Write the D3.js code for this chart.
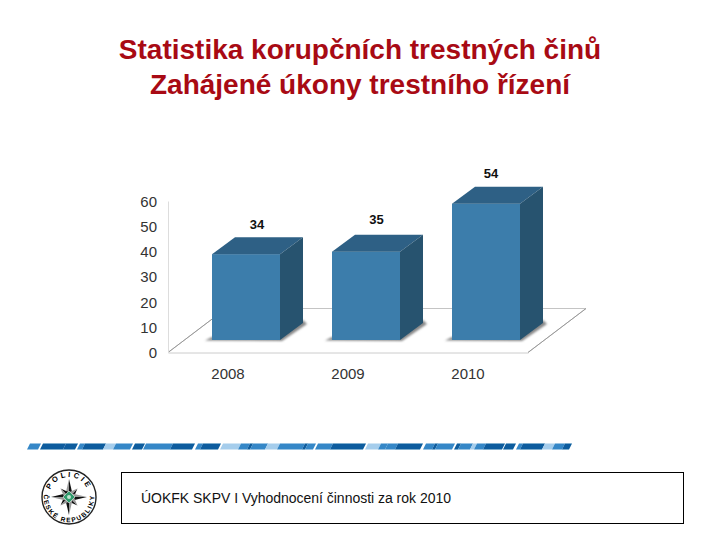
<html lang="en">

<head>
    <meta charset="UTF-8">
    <script src="https://d3js.org/d3.v7.min.js"></script>
    <title>Statistika korupčních trestných činů</title>
    <style>
        html, body {
            margin: 0;
            padding: 0;
            background: #fff;
        }

        svg {
            display: block;
            font-family: "Liberation Sans", Arial, sans-serif;
        }

        .axis text {
            font-size: 15px;
            fill: #333;
        }
    </style>
</head>

<body>
    <section></section>

    <script>
        const titleLines = ['Statistika korupčních trestných činů', 'Zahájené úkony trestního řízení'];
        const footerText = 'ÚOKFK SKPV I Vyhodnocení činnosti za rok 2010';
        const years = ['2008', '2009', '2010'];
        const cases = [34, 35, 54];
        const yTicks = [0, 10, 20, 30, 40, 50, 60];

        // the dashed rule above the footer: start, end, shade
        const ruleStarts = [27, 40, 63, 77, 82, 103, 113, 132, 143, 170, 195, 200, 220, 238, 247, 250, 265, 277, 302, 305, 315, 330, 365, 378, 385, 395, 423, 432, 435, 454, 458, 470, 474, 483, 503, 516, 520, 542, 552, 562];
        const ruleEnds = [38, 63, 75, 82, 103, 113, 130, 142, 170, 192, 200, 218, 238, 247, 250, 265, 277, 302, 305, 313, 330, 363, 378, 385, 395, 420, 432, 435, 452, 458, 470, 474, 483, 502, 513, 520, 542, 552, 562, 569];
        const ruleShades = ['m', 'd', 'd', 'm', 'd', 'l', 'm', 'd', 'm', 'd', 'm', 'd', 'l', 'm', 'd', 'm', 'l', 'm', 'd', 'm', 'm', 'd', 'l', 'm', 'm', 'd', 'm', 'd', 'm', 'd', 'm', 'l', 'm', 'd', 'd', 'm', 'd', 'l', 'm', 'd'];

        const w = 720;
        const h = 540;
        const floorDx = 58;
        const floorDy = 44;
        const barDx = 23;
        const barDy = 17;
        const barLift = 12.5; // bars stand this far behind the front edge of the floor

        const svg = d3.select('section')
            .append('svg')
            .attr('width', w)
            .attr('height', h);

        const defs = svg.append('defs');
        defs.append('filter').attr('id', 'blur')
            .append('feGaussianBlur').attr('stdDeviation', 1.3);
        defs.append('filter').attr('id', 'soft')
            .append('feGaussianBlur').attr('stdDeviation', 0.4);

        svg.selectAll('.title')
            .data(titleLines)
            .enter()
            .append('text')
            .attr('class', 'title')
            .attr('x', 360)
            .attr('y', (d, i) => 59 + i * 35)
            .attr('text-anchor', 'middle')
            .attr('font-size', 28)
            .attr('font-weight', 'bold')
            .attr('fill', '#a80a14')
            .text(d => d);

        const xScale = d3.scaleBand()
            .domain(years)
            .range([168, 528])
            .paddingInner(52 / 120)
            .paddingOuter(26 / 120);

        const yScale = d3.scaleLinear()
            .domain([0, 60])
            .range([352.5, 201]);

        // floor
        const y0 = yScale(0);
        const floor = svg.append('g').attr('fill', 'none');
        floor.append('path')
            .attr('d', `M168,${y0}L${168 + floorDx},${y0 - floorDy}H${528 + floorDx}L528,${y0}`)
            .attr('stroke', '#c4c4c4');
        floor.append('path')
            .attr('d', `M168,${y0}L${168 + floorDx},${y0 - floorDy}`)
            .attr('stroke', '#999');
        floor.append('path')
            .attr('d', `M528,${y0}L${528 + floorDx},${y0 - floorDy}`)
            .attr('stroke', '#999');

        const xAxis = d3.axisBottom(xScale).tickSize(0).tickPadding(16);
        const yAxis = d3.axisLeft(yScale).tickValues(yTicks).tickSize(0).tickPadding(11);

        const xG = svg.append('g')
            .attr('class', 'axis')
            .attr('transform', 'translate(0,' + y0 + ')')
            .call(xAxis);
        xG.select('.domain').attr('stroke', '#ccc');

        const yG = svg.append('g')
            .attr('class', 'axis')
            .attr('transform', 'translate(168,0)')
            .call(yAxis);
        yG.select('.domain').attr('stroke', '#ddd');
        yG.selectAll('.tick text').attr('dy', '0.34em');

        // bars
        const bars = svg.selectAll('.bar')
            .data(years.map((d, i) => ({ year: d, value: cases[i] })))
            .enter()
            .append('g')
            .attr('class', 'bar');

        const barLeft = d => xScale(d.year) + 18;
        const barRight = d => barLeft(d) + xScale.bandwidth();
        const barTop = d => yScale(d.value) - barLift;
        const barBase = y0 - barLift;

        bars.append('path')
            .attr('d', d => `M${barLeft(d) - 7},${barBase + 0.5}L${barRight(d) + 2},${barBase + 1}L${barRight(d) + barDx + 4},${barBase - barDy + 1}L${barRight(d) + barDx},${barBase - barDy - 3}L${barRight(d)},${barBase - 3}H${barLeft(d)}Z`)
            .attr('fill', '#888')
            .attr('filter', 'url(#blur)');

        bars.append('rect')
            .attr('x', barLeft)
            .attr('y', barTop)
            .attr('width', xScale.bandwidth())
            .attr('height', d => barBase - barTop(d))
            .attr('fill', '#3c7dab');

        bars.append('path')
            .attr('d', d => `M${barLeft(d)},${barTop(d)}l${barDx},${-barDy}H${barRight(d) + barDx}L${barRight(d)},${barTop(d)}Z`)
            .attr('fill', '#2e6085');

        bars.append('path')
            .attr('d', d => `M${barRight(d)},${barTop(d)}l${barDx},${-barDy}V${barBase - barDy}L${barRight(d)},${barBase}Z`)
            .attr('fill', '#27536f');

        const labelShift = [11, 10.5, 5];
        const labelRaise = [0, 3, 1];
        bars.append('text')
            .attr('x', (d, i) => (barLeft(d) + barRight(d)) / 2 + labelShift[i])
            .attr('y', (d, i) => barTop(d) - barDy - 8 - labelRaise[i])
            .attr('text-anchor', 'middle')
            .attr('font-size', 13)
            .attr('font-weight', 'bold')
            .attr('fill', '#111')
            .text(d => d.value);

        // dashed rule
        const shadeColor = { d: '#0b5c9e', m: '#3587c7', l: '#a5cdec' };
        svg.append('g')
            .attr('filter', 'url(#soft)')
            .selectAll('path')
            .data(ruleStarts.map((s, i) => ({ s: s, e: ruleEnds[i], shade: ruleShades[i] })))
            .enter()
            .append('path')
            .attr('d', d => `M${d.s},449.5L${d.s + 3},443.5H${d.e + 3}L${d.e},449.5Z`)
            .attr('fill', d => shadeColor[d.shade]);

        // footer box
        svg.append('rect')
            .attr('x', 121.5)
            .attr('y', 472.5)
            .attr('width', 562)
            .attr('height', 51)
            .attr('fill', '#fff')
            .attr('stroke', '#000');

        svg.append('text')
            .attr('x', 141)
            .attr('y', 503)
            .attr('font-size', 14)
            .attr('fill', '#111')
            .attr('textLength', 310)
            .attr('lengthAdjust', 'spacing')
            .text(footerText);

        // police badge
        const logo = svg.append('g').attr('transform', 'translate(69,497)');
        logo.append('circle').attr('r', 27).attr('fill', '#fff').attr('stroke', '#222').attr('stroke-width', 1.4);

        defs.append('path').attr('id', 'arcTop').attr('d', 'M-20,0 A20,20 0 0 1 20,0');
        defs.append('path').attr('id', 'arcBottom').attr('d', 'M-24,-8 A25.3,25.3 0 1 0 24,-8');

        logo.append('text').attr('font-size', 7.5).attr('font-weight', 'bold').attr('letter-spacing', 2.6).attr('text-anchor', 'middle')
            .append('textPath').attr('href', '#arcTop').attr('startOffset', '50%').text('POLICIE');
        logo.append('text').attr('font-size', 6.5).attr('font-weight', 'bold').attr('letter-spacing', 1.5).attr('text-anchor', 'middle')
            .append('textPath').attr('href', '#arcBottom').attr('startOffset', '50%').text('ČESKÉ REPUBLIKY');

        const spikes = d3.range(8).map(i => ({ angle: i * 45, len: i % 2 ? 12 : 18 }));
        const spike = logo.selectAll('.spike')
            .data(spikes)
            .enter()
            .append('g')
            .attr('class', 'spike')
            .attr('transform', d => 'rotate(' + d.angle + ')');
        spike.append('path').attr('d', d => `M0,${-d.len}L3.4,-3.4L0,0Z`).attr('fill', '#111');
        spike.append('path').attr('d', d => `M0,${-d.len}L-3.4,-3.4L0,0Z`).attr('fill', '#999');

        logo.append('path').attr('d', 'M0,-6L6,0L0,6L-6,0Z').attr('fill', '#2f9a6c').attr('stroke', '#eee').attr('stroke-width', 0.6);
        logo.append('circle').attr('r', 2).attr('fill', '#bfe3cf');
    </script>
</body>

</html>
